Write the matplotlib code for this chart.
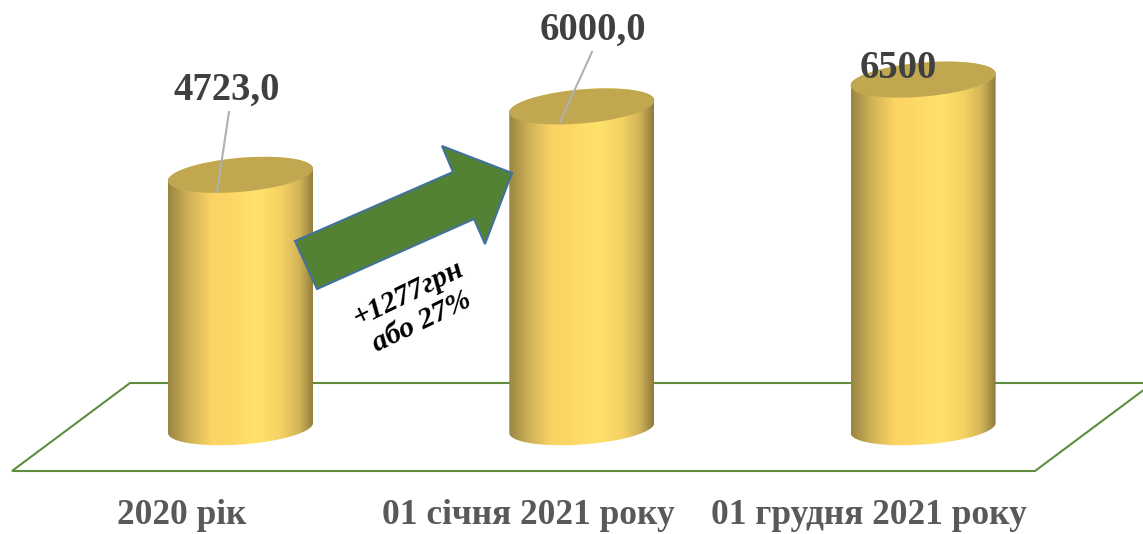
import matplotlib
matplotlib.use("Agg")
import matplotlib.pyplot as plt
import numpy as np
from matplotlib.colors import LinearSegmentedColormap
from matplotlib.patches import Polygon
from matplotlib.transforms import Affine2D

# дані
categories = ["2020 рік", "01 січня 2021 року", "01 грудня 2021 року"]
values = [4723.0, 6000.0, 6500.0]
value_labels = ["4723,0", "6000,0", "6500"]
arrow_text = "+1277грн\nабо 27%"

W, H = 1143, 534
BASE_PX = 428        # y пікселя для нуля
PX_PER_UNIT = 0.0536
FIRST_X = 240.5
STEP_X = 341.3

plt.rcParams["font.family"] = ["Liberation Serif", "DejaVu Serif"]

fig = plt.figure(figsize=(W / 100, H / 100), dpi=100)
ax = fig.add_axes([0, 0, 1, 1])
ax.axis("off")
ax.set_xlim(-FIRST_X / STEP_X, (W - FIRST_X) / STEP_X)
ax.set_ylim((BASE_PX - H) / PX_PER_UNIT, BASE_PX / PX_PER_UNIT)

# координати в пікселях картинки (y вниз) для підлоги, стрілки і підписів
px = Affine2D().scale(1 / W, -1 / H).translate(0, 1) + fig.transFigure

# підлога
floor = Polygon([(12, 471), (130, 383), (1153, 383), (1035, 471)], closed=True,
                facecolor="white", edgecolor="#5f8c3e", linewidth=1.5,
                transform=px, zorder=1)
ax.add_patch(floor)

# циліндри
half_w = 72.5 / STEP_X
tilt_top, tilt_bottom = 6 / PX_PER_UNIT, 5 / PX_PER_UNIT
b_top, b_bottom = 17 / PX_PER_UNIT, 16.5 / PX_PER_UNIT
cmap = LinearSegmentedColormap.from_list("gold", [
    (0.0, "#9a8542"), (0.14, "#cfb257"), (0.3, "#fbd464"), (0.42, "#fdd766"),
    (0.62, "#ffe26b"), (0.78, "#f4d163"), (0.9, "#d3b558"), (1.0, "#8f7b3b"),
])
gradient = np.linspace(0, 1, 256).reshape(1, -1)
t = np.linspace(0, 2 * np.pi, 200)

for i, v in enumerate(values):
    tt = t[100:]  # нижня дуга
    bx = i + half_w * np.cos(tt)
    by = tilt_bottom * np.cos(tt) + b_bottom * np.sin(tt)
    ux = i + half_w * np.cos(t)
    uy = v + tilt_top * np.cos(t) + b_top * np.sin(t)

    body = np.column_stack([np.r_[bx, ux[:100]], np.r_[by, uy[:100]]])
    im = ax.imshow(gradient, cmap=cmap, aspect="auto", zorder=2 + i * 0.1,
                   extent=[i - half_w, i + half_w, -1000, v + 1000])
    im.set_clip_path(Polygon(body, closed=True, transform=ax.transData))

    ax.fill(ux, uy, color="#c1a850", linewidth=0, zorder=2.05 + i * 0.1)

ax.set_xlim(-FIRST_X / STEP_X, (W - FIRST_X) / STEP_X)
ax.set_ylim((BASE_PX - H) / PX_PER_UNIT, BASE_PX / PX_PER_UNIT)

# виноски
ax.plot([229, 217], [112, 192], color="#b0b0b0", linewidth=1.5, transform=px, zorder=4)
ax.plot([592, 560], [52, 122], color="#b0b0b0", linewidth=1.5, transform=px, zorder=4)

# стрілка
arrow = Polygon([(295, 241), (453, 172), (442, 146), (512, 173), (485, 244),
                 (474, 219), (317, 289)], closed=True, facecolor="#548235",
                edgecolor="#41719c", linewidth=1.5, transform=px, zorder=5)
ax.add_patch(arrow)

# підписи значень
label_pos = [(227, 90), (593, 30), (898, 68)]
for s, (x, y) in zip(value_labels, label_pos):
    ax.text(x, y, s, transform=px, ha="center", va="center", fontsize=27.8,
            fontweight="bold", color="#404040", zorder=6)

# підписи категорій
cat_pos = [182, 528, 869]
for s, x in zip(categories, cat_pos):
    ax.text(x, 515, s, transform=px, ha="center", va="center", fontsize=25.5,
            fontweight="bold", color="#595959", zorder=6)

ax.text(415, 308, arrow_text, transform=px, ha="center", va="center", fontsize=21.5,
        fontweight="bold", fontstyle="italic", color="black", rotation=26,
        rotation_mode="anchor", linespacing=1.2, zorder=6)

fig.savefig("out.png", dpi=100, facecolor="white")
